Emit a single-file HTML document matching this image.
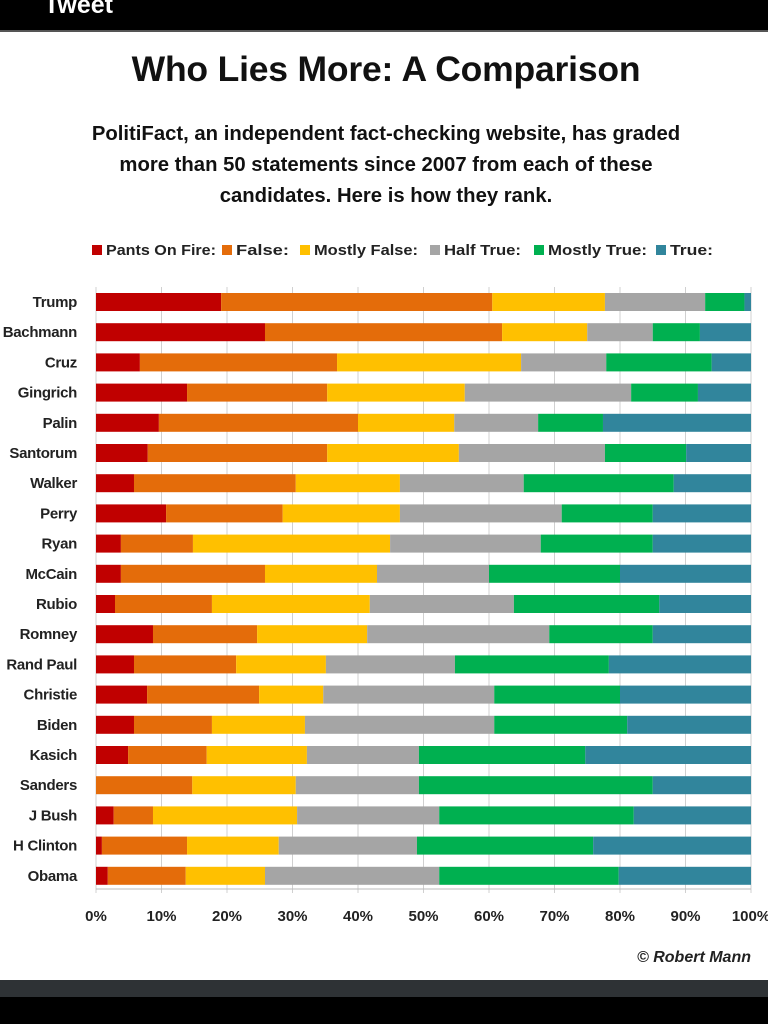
<!DOCTYPE html>
<html><head><meta charset="utf-8"><style>
html,body{margin:0;padding:0;background:#fff;}
body{width:768px;height:1024px;position:relative;overflow:hidden;font-family:"Liberation Sans",sans-serif;}
.topbar{position:absolute;left:0;top:0;width:768px;height:30px;background:#000;border-bottom:2px solid #555;}
.topbar span{position:absolute;left:44px;top:-9px;color:#fff;font-size:25px;font-weight:bold;}
.botbar{position:absolute;left:0;top:980px;width:768px;height:17px;background:#2e3235;}
.botbar2{position:absolute;left:0;top:997px;width:768px;height:27px;background:#000;}
.t{position:absolute;left:0;width:772px;text-align:center;font-weight:bold;color:#111;}
</style></head><body>
<div class="topbar"><span>Tweet</span></div>
<div class="t" style="top:49px;font-size:35.5px;letter-spacing:-0.2px;">Who Lies More: A Comparison</div>
<div class="t" style="top:119px;font-size:20.3px;line-height:31px;">PolitiFact, an independent fact-checking website, has graded<br>more than 50 statements since 2007 from each of these<br>candidates. Here is how they rank.</div>
<svg id="chart" width="768" height="1024" style="position:absolute;left:0;top:0;"></svg>
<div class="botbar"></div>
<div class="botbar2"></div>
<script>
const categories=["Trump","Bachmann","Cruz","Gingrich","Palin","Santorum","Walker","Perry","Ryan","McCain","Rubio","Romney","Rand Paul","Christie","Biden","Kasich","Sanders","J Bush","H Clinton","Obama"];
const seriesNames=["Pants On Fire:","False:","Mostly False:","Half True:","Mostly True:","True:"];
const pantsOnFire=[19.1,25.8,6.7,13.9,9.6,7.9,5.8,10.7,3.8,3.8,2.9,8.7,5.8,7.8,5.8,4.9,0,2.7,0.9,1.8];
const falseVals=[41.4,36.2,30.1,21.4,30.4,27.4,24.7,17.8,11,22,14.8,15.9,15.6,17.1,11.9,12,14.7,6,13,11.9];
const mostlyFalse=[17.2,13,28.1,21,14.7,20.1,15.9,17.9,30.1,17.1,24.1,16.8,13.7,9.8,14.2,15.3,15.8,22,14,12.1];
const halfTrue=[15.3,10,13,25.4,12.8,22.3,18.9,24.7,23,17.1,22,27.8,19.7,26.1,28.9,17.1,18.8,21.7,21.1,26.6];
const mostlyTrue=[6,7.2,16.1,10.2,9.9,12.4,22.9,13.9,17.1,20,22.2,15.8,23.5,19.2,20.3,25.4,35.7,29.7,26.9,27.4];
const trueVals=[1,7.8,6,8.1,22.6,9.9,11.8,15,15,20,14,15,21.7,20,18.9,25.3,15,17.9,24.1,20.2];
const tickLabels=["0%","10%","20%","30%","40%","50%","60%","70%","80%","90%","100%"];
const colors=["#c00000","#e46c0a","#ffc000","#a5a5a5","#00b050","#31859c"];
const series=[pantsOnFire,falseVals,mostlyFalse,halfTrue,mostlyTrue,trueVals];
const NS="http://www.w3.org/2000/svg";
const svg=document.getElementById("chart");
const x0=96,x1=751,yTop=287,rowH=30.2,barH=18;
const xs=v=>x0+(x1-x0)*v/100;
const yc=i=>yTop+rowH*i+15;
function mk(tag,attrs){const e=document.createElementNS(NS,tag);for(const k in attrs)e.setAttribute(k,attrs[k]);svg.appendChild(e);return e;}
tickLabels.forEach((lab,k)=>{
  const x=xs(k*10);
  const g=mk("line",{x1:x,x2:x,y1:yTop,y2:893,stroke:"#d0d0d0","stroke-width":1});
  
  
  const t=mk("text",{x:x,y:921,"text-anchor":"middle","font-size":15,"font-weight":"bold",fill:"#222"});
  t.textContent=lab;
  
  
});
const ax=mk("line",{x1:x0,x2:x1,y1:889,y2:889,stroke:"#bbb","stroke-width":1});


categories.forEach((c,i)=>{
  let acc=0;
  series.forEach((s,j)=>{
    const v=s[i];
    if(v>0){
      const r=mk("rect",{x:xs(acc),y:yc(i)-barH/2,width:xs(acc+v)-xs(acc),height:barH,fill:colors[j]});
      
      
    }
    acc+=v;
  });
  const t=mk("text",{x:77,y:yc(i)+5,"text-anchor":"end","font-size":15,"font-weight":"bold",fill:"#222","letter-spacing":"-0.3"});
  t.textContent=c;
  
  
});
const legendX=[92,222,300,430,534,656];
const legendTextW=[110,53,104,77,99,43];
seriesNames.forEach((n,j)=>{
  const lx=legendX[j];
  const r=mk("rect",{x:lx,y:245,width:10,height:10,fill:colors[j]});
  
  
  const t=mk("text",{x:lx+14,y:255,"font-size":14.5,"font-weight":"bold",fill:"#222",textLength:legendTextW[j],lengthAdjust:"spacingAndGlyphs"});
  t.textContent=n;
  
  
});
const cr=mk("text",{x:751,y:962,"text-anchor":"end","font-size":16,"font-weight":"bold","font-style":"italic",fill:"#222"});
cr.textContent="© Robert Mann";


</script>
</body></html>
